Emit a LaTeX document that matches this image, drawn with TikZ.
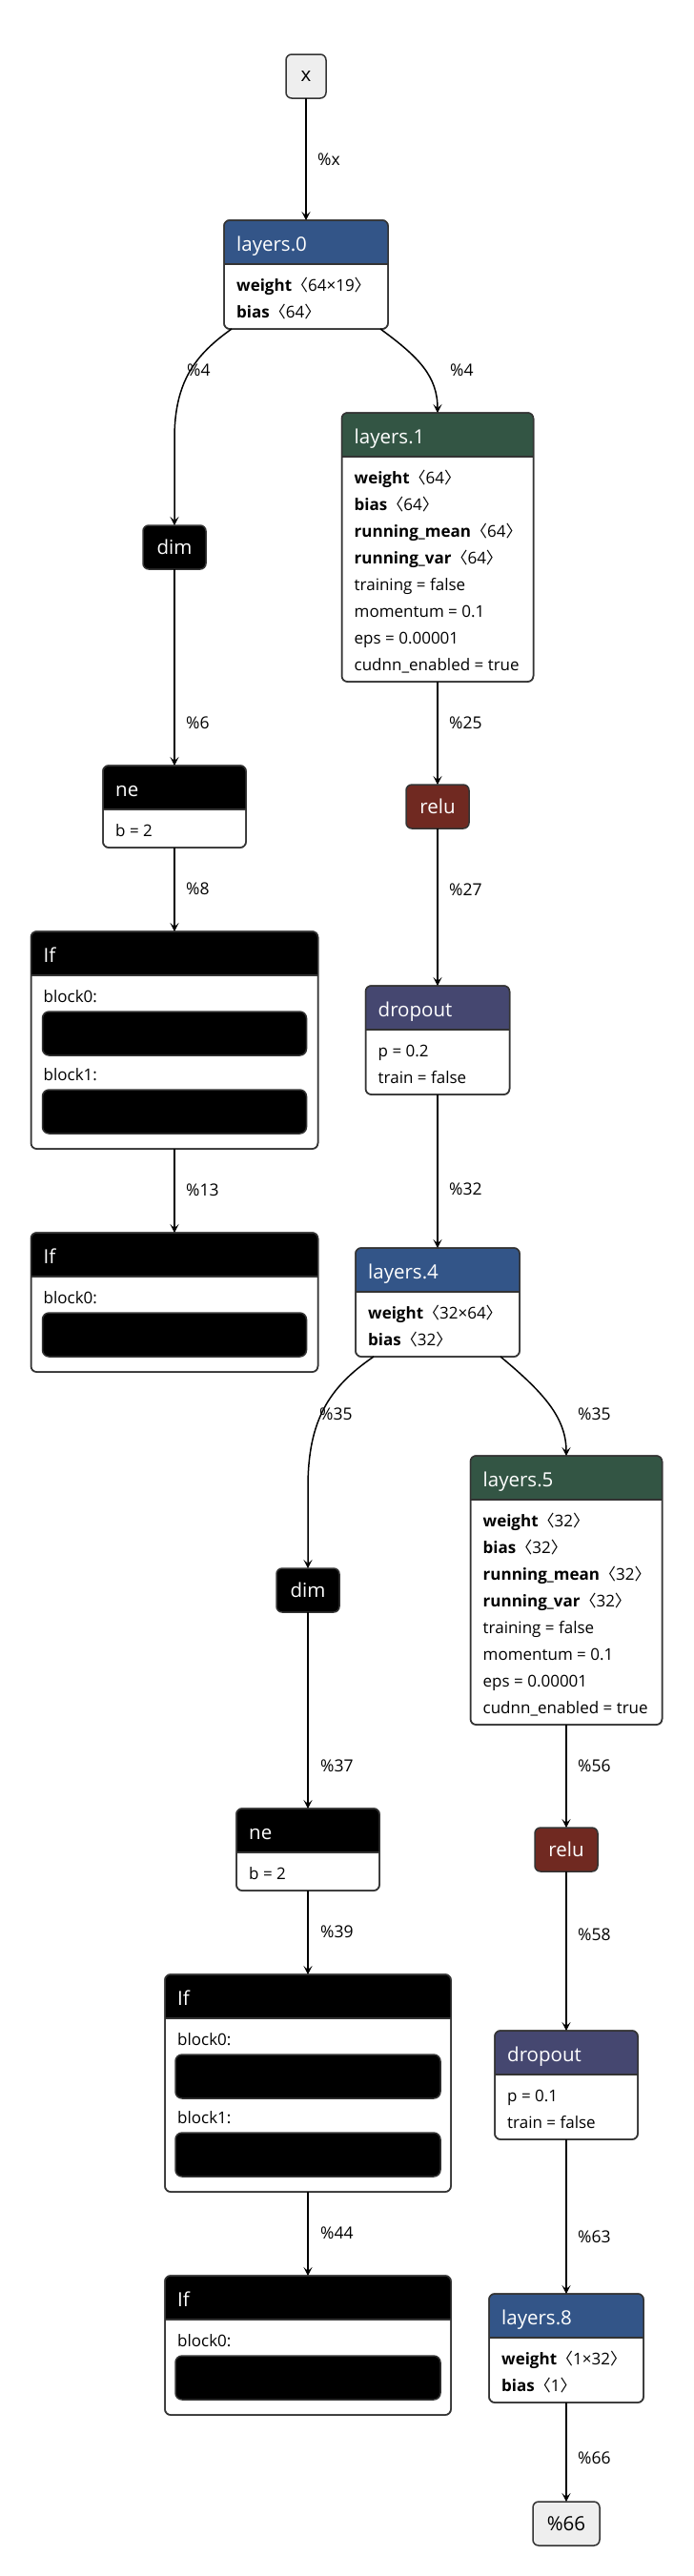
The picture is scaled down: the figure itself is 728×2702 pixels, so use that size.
\documentclass[tikz,border=0pt]{standalone}
\usepackage{fontspec}
\setmainfont{Open Sans}
\newfontfamily\cjk{Noto Sans CJK SC}
\usetikzlibrary{arrows.meta}
\definecolor{hdrblue}{RGB}{51,85,136}
\definecolor{hdrgreen}{RGB}{51,85,68}
\definecolor{hdrred}{RGB}{112,41,33}
\definecolor{hdrpurple}{RGB}{69,71,112}
\definecolor{bordc}{RGB}{51,51,51}
\definecolor{iofill}{RGB}{238,238,238}
\newcommand\attrfont{\fontsize{17}{20}\selectfont}
\newcommand\titlefont{\fontsize{20.5}{24}\selectfont}
\newcommand\lblfont{\fontsize{17.5}{20}\selectfont}
\newcommand\lb{{\cjk 〈}}
\newcommand\rb{{\cjk 〉}}
\tikzset{
  nbox/.style={draw=bordc, line width=1.5pt, fill=white, rounded corners=6pt, inner sep=0pt, outer sep=0pt},
  opbox/.style={nbox, fill=black, text=white, font=\titlefont},
  iobox/.style={nbox, fill=iofill, text=black, font=\titlefont},
  actbox/.style={nbox, fill=hdrred, text=white, font=\titlefont},
  edge/.style={line width=1.5pt, -{Stealth[length=9pt,width=9pt,inset=4pt]}},
  lbl/.style={anchor=west, font=\lblfont, inner sep=0pt},
  ttl/.style={anchor=base west, font=\titlefont, text=white, inner sep=0pt},
  attr/.style={anchor=base west, font=\attrfont, inner sep=0pt},
  blockbox/.style={draw=bordc, line width=1.5pt, fill=black, rounded corners=7pt},
}
% #1 name, #2 cx, #3 top, #4 width, #5 height, #6 header height, #7 colour, #8 title
\newcommand\cnode[8]{%
  \node[nbox, minimum width=#4pt, minimum height=#5pt, anchor=north] (#1) at (#2,#3) {};
  \begin{scope}
    \clip[rounded corners=6pt] (#1.north west) rectangle (#1.south east);
    \fill[#7] (#1.north west) rectangle ([yshift=-#6pt]#1.north east);
  \end{scope}
  \draw[bordc, line width=1.5pt] ([yshift=-#6pt]#1.north west) -- ([yshift=-#6pt]#1.north east);
  \draw[bordc, line width=1.5pt, rounded corners=6pt] (#1.north west) rectangle (#1.south east);
  \node[ttl] (#1-title) at ([xshift=13pt,yshift=-32pt]#1.north west) {#8};
}
\begin{document}
\begin{tikzpicture}[x=1pt,y=-1pt]
\useasboundingbox (0,0) rectangle (728,2702);
\fill[white] (0,0) rectangle (728,2702);

% ---------- input
\node[iobox, minimum width=42pt, minimum height=46pt] (xin) at (321,80) {x};

% ---------- layers.0
\cnode{L0}{321}{231}{172}{114}{46}{hdrblue}{layers.0}
\node[attr] (L0-a) at (248,305) {\textbf{weight}\lb 64×19\rb};
\node[attr] (L0-b) at (248,333) {\textbf{bias}\lb 64\rb};

% ---------- left branch 1
\node[opbox, minimum width=66pt, minimum height=46pt] (dim1) at (183,574) {dim};
\cnode{ne1}{183}{803}{150}{86}{46}{black}{ne}
\node[attr] (ne1-a) at (121,877) {b = 2};
\cnode{if1}{183}{977}{301}{228}{46}{black}{If}
\node[attr] (if1-a) at (45.5,1051) {block0:};
\draw[blockbox] (44.5,1061) rectangle (321.5,1107);
\node[attr] (if1-b) at (45.5,1133) {block1:};
\draw[blockbox] (44.5,1143) rectangle (321.5,1189);
\cnode{if2}{183}{1293}{301}{146}{46}{black}{If}
\node[attr] (if2-a) at (45.5,1367) {block0:};
\draw[blockbox] (44.5,1377) rectangle (321.5,1423);

% ---------- right branch 1
\cnode{L1}{459}{433}{201}{282}{46}{hdrgreen}{layers.1}
\node[attr] (L1-a) at (371.5,507) {\textbf{weight}\lb 64\rb};
\node[attr] (L1-b) at (371.5,535) {\textbf{bias}\lb 64\rb};
\node[attr] (L1-c) at (371.5,563) {\textbf{running\_mean}\lb 64\rb};
\node[attr] (L1-d) at (371.5,591) {\textbf{running\_var}\lb 64\rb};
\node[attr] (L1-e) at (371.5,619) {training = false};
\node[attr] (L1-f) at (371.5,647) {momentum = 0.1};
\node[attr] (L1-g) at (371.5,675) {eps = 0.00001};
\node[attr] (L1-h) at (371.5,703) {cudnn\_enabled = true};
\node[actbox, minimum width=66pt, minimum height=46pt] (relu1) at (459,846) {relu};
\cnode{drop1}{459}{1034}{151}{114}{46}{hdrpurple}{dropout}
\node[attr] (drop1-a) at (396.5,1108) {p = 0.2};
\node[attr] (drop1-b) at (396.5,1136) {train = false};
\cnode{L4}{459}{1309}{172}{114}{46}{hdrblue}{layers.4}
\node[attr] (L4-a) at (386,1383) {\textbf{weight}\lb 32×64\rb};
\node[attr] (L4-b) at (386,1411) {\textbf{bias}\lb 32\rb};

% ---------- left branch 2
\node[opbox, minimum width=66pt, minimum height=46pt] (dim2) at (323,1668) {dim};
\cnode{ne2}{323}{1897}{150}{86}{46}{black}{ne}
\node[attr] (ne2-a) at (261,1971) {b = 2};
\cnode{if3}{323}{2071}{300}{228}{46}{black}{If}
\node[attr] (if3-a) at (186,2145) {block0:};
\draw[blockbox] (184,2155) rectangle (462,2201);
\node[attr] (if3-b) at (186,2227) {block1:};
\draw[blockbox] (184,2237) rectangle (462,2283);
\cnode{if4}{323}{2387}{300}{146}{46}{black}{If}
\node[attr] (if4-a) at (186,2461) {block0:};
\draw[blockbox] (184,2471) rectangle (462,2517);

% ---------- right branch 2
\cnode{L5}{594}{1527}{201}{282}{46}{hdrgreen}{layers.5}
\node[attr] (L5-a) at (506.5,1601) {\textbf{weight}\lb 32\rb};
\node[attr] (L5-b) at (506.5,1629) {\textbf{bias}\lb 32\rb};
\node[attr] (L5-c) at (506.5,1657) {\textbf{running\_mean}\lb 32\rb};
\node[attr] (L5-d) at (506.5,1685) {\textbf{running\_var}\lb 32\rb};
\node[attr] (L5-e) at (506.5,1713) {training = false};
\node[attr] (L5-f) at (506.5,1741) {momentum = 0.1};
\node[attr] (L5-g) at (506.5,1769) {eps = 0.00001};
\node[attr] (L5-h) at (506.5,1797) {cudnn\_enabled = true};
\node[actbox, minimum width=66pt, minimum height=46pt] (relu2) at (594,1940) {relu};
\cnode{drop2}{594}{2130}{150}{114}{46}{hdrpurple}{dropout}
\node[attr] (drop2-a) at (532,2204) {p = 0.1};
\node[attr] (drop2-b) at (532,2232) {train = false};
\cnode{L8}{594}{2406}{162}{114}{46}{hdrblue}{layers.8}
\node[attr] (L8-a) at (526,2480) {\textbf{weight}\lb 1×32\rb};
\node[attr] (L8-b) at (526,2508) {\textbf{bias}\lb 1\rb};
\node[iobox, minimum width=70pt, minimum height=46pt] (out) at (594,2647) {\%66};

% ---------- connectors
\draw[edge] (xin.south) -- (L0.north);
\draw[edge] ([xshift=8pt]L0.south west) .. controls (205,372) and (183,400) .. (183,460) -- (dim1.north);
\draw[edge] ([xshift=-8pt]L0.south east) .. controls (440,375) and (459,395) .. (L1.north);
\draw[edge] (dim1.south) -- (ne1.north);
\draw[edge] (ne1.south) -- (if1.north);
\draw[edge] (if1.south) -- (if2.north);
\draw[edge] (L1.south) -- (relu1.north);
\draw[edge] (relu1.south) -- (drop1.north);
\draw[edge] (drop1.south) -- (L4.north);
\draw[edge] ([xshift=19pt]L4.south west) .. controls (345,1455) and (323,1490) .. (323,1560) -- (dim2.north);
\draw[edge] ([xshift=-20pt]L4.south east) .. controls (572,1462) and (594,1488) .. (L5.north);
\draw[edge] (dim2.south) -- (ne2.north);
\draw[edge] (ne2.south) -- (if3.north);
\draw[edge] (if3.south) -- (if4.north);
\draw[edge] (L5.south) -- (relu2.north);
\draw[edge] (relu2.south) -- (drop2.north);
\draw[edge] (drop2.south) -- (L8.north);
\draw[edge] (L8.south) -- (out.north);

% ---------- connector labels
\node[lbl] (e1) at (333,167) {\%x};
\node[lbl] (e2) at (196,388) {\%4};
\node[lbl] (e3) at (472,388) {\%4};
\node[lbl] (e4) at (195,758) {\%6};
\node[lbl] (e5) at (195,932) {\%8};
\node[lbl] (e6) at (195,1248) {\%13};
\node[lbl] (e7) at (471,758) {\%25};
\node[lbl] (e8) at (471,933) {\%27};
\node[lbl] (e9) at (471,1247) {\%32};
\node[lbl] (e10) at (335,1483) {\%35};
\node[lbl] (e11) at (606,1483) {\%35};
\node[lbl] (e12) at (336,1852) {\%37};
\node[lbl] (e13) at (336,2026) {\%39};
\node[lbl] (e14) at (336,2342) {\%44};
\node[lbl] (e15) at (606,1852) {\%56};
\node[lbl] (e16) at (606,2029) {\%58};
\node[lbl] (e17) at (606,2346) {\%63};
\node[lbl] (e18) at (606,2578) {\%66};
\end{tikzpicture}
\end{document}
